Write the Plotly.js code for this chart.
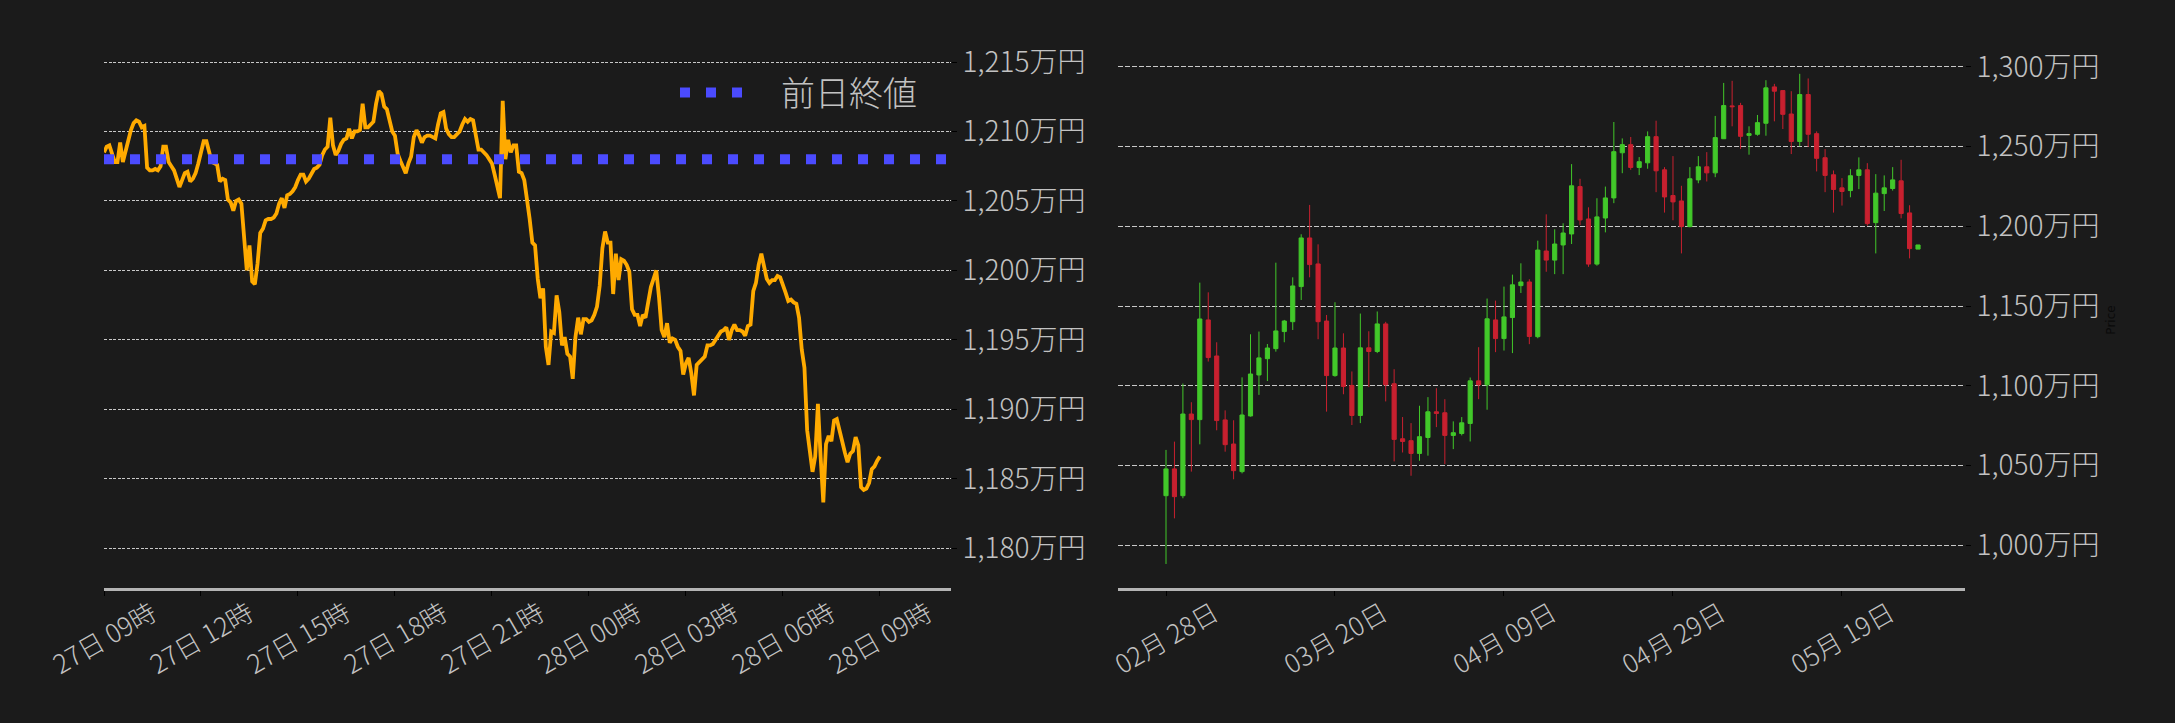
<!DOCTYPE html>
<html><head><meta charset="utf-8">
<script src="https://cdn.plot.ly/plotly-3.0.1.min.js"></script>
<style>html,body{margin:0;padding:0;background:#1b1b1b;}#chart{width:2175px;height:723px;}</style>
</head><body><div id="chart"></div>
<script>
// ---------- intraday (5-minute) data ----------
const intradayStart = '2025-05-27T09:00:00';
const intradayStepMinutes = 5;
const intradayPrices = [
 1208.5,1208.9,1209.0,1208.4,1207.8,1207.8,1209.2,1207.8,1208.6,1209.4,
 1210.1,1210.6,1210.8,1210.7,1210.3,1210.4,1207.4,1207.2,1207.2,1207.3,
 1207.2,1207.5,1208.9,1208.9,1207.8,1207.5,1207.2,1206.6,1206.0,1206.5,
 1207.0,1207.1,1206.4,1206.6,1207.0,1207.7,1208.4,1209.3,1209.3,1208.5,
 1207.8,1207.7,1207.6,1206.4,1206.6,1206.5,1205.1,1204.9,1204.3,1205.0,
 1205.1,1204.8,1202.5,1200.0,1201.8,1199.2,1199.0,1200.5,1202.7,1203.0,
 1203.6,1203.7,1203.7,1203.8,1204.1,1204.8,1205.2,1204.5,1205.4,1205.5,
 1205.7,1206.0,1206.5,1206.9,1206.9,1206.4,1206.6,1207.0,1207.3,1207.4,
 1207.6,1208.3,1208.7,1208.9,1211.0,1209.0,1208.3,1208.6,1209.1,1209.4,
 1209.5,1210.2,1209.5,1210.0,1210.0,1210.1,1212.0,1210.3,1210.3,1210.5,
 1210.7,1212.0,1212.9,1212.7,1211.8,1211.6,1210.9,1210.0,1209.7,1208.4,
 1207.9,1207.5,1207.0,1207.7,1208.2,1209.6,1210.1,1209.7,1209.2,1209.6,
 1209.7,1209.7,1209.6,1209.5,1210.5,1211.3,1211.4,1210.2,1209.8,1209.6,
 1209.6,1209.8,1210.0,1210.5,1210.9,1210.7,1210.9,1210.8,1209.6,1208.7,
 1208.7,1208.5,1208.3,1208.0,1207.7,1206.9,1205.9,1205.2,1212.2,1208.0,
 1209.4,1208.5,1209.0,1209.0,1207.1,1207.0,1206.5,1205.2,1203.7,1202.0,
 1201.8,1199.4,1198.0,1198.7,1194.5,1193.2,1195.6,1195.5,1198.2,1197.0,
 1194.6,1195.2,1194.0,1193.8,1192.2,1195.2,1196.6,1195.4,1196.5,1196.5,
 1196.3,1196.4,1196.8,1197.4,1198.9,1201.6,1202.8,1202.0,1202.0,1198.3,
 1201.2,1199.3,1200.8,1200.7,1200.4,1199.9,1197.2,1196.8,1196.8,1196.0,
 1196.8,1196.6,1197.6,1198.8,1199.4,1200.0,1198.1,1195.7,1195.2,1196.2,
 1194.8,1195.1,1195.0,1194.5,1194.2,1192.5,1193.3,1193.7,1192.6,1191.0,
 1193.2,1193.4,1193.6,1193.8,1194.6,1194.6,1194.7,1195.0,1195.2,1195.6,
 1195.7,1195.9,1195.0,1195.7,1196.1,1195.7,1195.7,1195.6,1195.3,1196.0,
 1196.1,1198.5,1199.1,1200.4,1201.2,1200.2,1199.4,1199.1,1199.3,1199.3,
 1199.6,1199.5,1199.0,1198.4,1197.8,1197.9,1197.7,1197.6,1196.6,1194.3,
 1193.0,1188.5,1187.0,1185.5,1186.6,1190.4,1186.6,1183.3,1187.5,1188.1,
 1187.7,1189.2,1189.3,1188.6,1187.7,1186.9,1186.2,1186.8,1187.0,1188.0,
 1187.4,1184.4,1184.2,1184.3,1184.7,1185.7,1185.9,1186.3,1186.6
];
const prevClose = 1208.0;
const prevCloseLabel = '前日終値';
const intradayRange = ['2025-05-27 09:00', '2025-05-28 11:12'];
const intradayTickVals = ['2025-05-27 09:00','2025-05-27 12:00','2025-05-27 15:00','2025-05-27 18:00',
  '2025-05-27 21:00','2025-05-28 00:00','2025-05-28 03:00','2025-05-28 06:00','2025-05-28 09:00'];
const intradayTickText = ['27日 09時','27日 12時','27日 15時','27日 18時','27日 21時',
  '28日 00時','28日 03時','28日 06時','28日 09時'];
const intradayYTickVals = [1180,1185,1190,1195,1200,1205,1210,1215];
const intradayYTickText = ['1,180万円','1,185万円','1,190万円','1,195万円','1,200万円','1,205万円','1,210万円','1,215万円'];

// ---------- daily OHLC data ----------
const dailyStart = '2025-02-28';
const dailyOpen = [
 1031.1,1047.9,1031.1,1082.3,1078.8,1141.3,1118.7,1078.6,1063.5,1046.2,
 1081.1,1106.8,1117.0,1123.3,1134.0,1140.2,1162.2,1192.7,1176.4,1140.6,
 1106.4,1123.7,1100.2,1081.4,1123.8,1121.5,1138.8,1101.3,1066.8,1065.6,
 1057.6,1067.6,1083.7,1083.1,1068.9,1070.1,1076.4,1103.1,1100.6,1141.3,
 1129.6,1142.8,1162.8,1165.1,1130.8,1184.5,1178.8,1188.3,1195.2,1224.9,
 1204.6,1176.3,1205.2,1217.8,1246.1,1251.2,1236.9,1239.8,1256.2,1235.4,
 1219.3,1215.9,1199.8,1229.1,1237.3,1233.5,1254.9,1275.5,1275.7,1257.0,
 1257.7,1264.6,1287.4,1285.1,1270.4,1253.2,1282.6,1258.1,1243.0,1232.3,
 1224.1,1222.4,1231.9,1235.4,1202.3,1220.5,1223.7,1228.5,1208.4,1185.7
];
const dailyHigh = [
 1059.8,1065.0,1101.4,1089.7,1164.7,1158.6,1127.3,1084.6,1078.4,1105.3,
 1132.3,1134.0,1126.2,1177.2,1141.3,1168.0,1195.0,1213.4,1188.7,1144.4,
 1152.4,1132.9,1109.0,1145.3,1134.2,1146.6,1140.1,1110.4,1080.4,1076.6,
 1087.5,1092.9,1098.5,1091.6,1077.7,1080.4,1105.2,1124.2,1154.7,1153.4,
 1162.2,1169.7,1176.8,1166.8,1191.0,1207.5,1198.1,1201.9,1239.0,1229.8,
 1211.9,1217.6,1224.9,1265.4,1255.1,1256.0,1243.4,1259.5,1266.2,1237.1,
 1244.0,1225.4,1237.1,1244.0,1246.5,1269.2,1289.9,1291.2,1277.4,1262.7,
 1269.8,1291.6,1289.3,1285.1,1284.7,1295.6,1292.7,1259.5,1248.4,1235.0,
 1230.2,1235.8,1243.2,1239.6,1232.7,1231.9,1237.1,1241.7,1213.2,1188.3
];
const dailyLow = [
 988.3,1016.9,1029.5,1046.2,1063.3,1115.2,1072.1,1058.7,1041.4,1045.1,
 1080.7,1094.3,1103.0,1121.4,1127.3,1135.0,1153.8,1168.0,1129.2,1083.8,
 1105.7,1094.7,1075.4,1076.6,1099.2,1120.5,1090.2,1052.6,1058.2,1043.6,
 1053.0,1056.2,1074.1,1050.9,1060.3,1068.9,1065.1,1091.6,1085.0,1121.1,
 1122.1,1120.5,1158.2,1126.1,1129.8,1171.5,1170.0,1170.0,1188.9,1200.8,
 1174.6,1175.3,1196.2,1214.5,1233.3,1235.4,1232.1,1236.1,1221.4,1208.6,
 1203.8,1183.0,1199.4,1227.0,1228.1,1230.8,1254.7,1262.7,1248.4,1244.9,
 1256.8,1256.8,1265.8,1261.0,1245.3,1250.1,1249.7,1234.4,1221.4,1208.6,
 1213.0,1218.2,1223.3,1200.4,1183.0,1209.6,1222.4,1205.0,1179.9,1185.7
];
const dailyClose = [
 1047.9,1030.5,1082.3,1078.8,1141.9,1117.7,1078.2,1063.1,1046.8,1081.7,
 1107.4,1117.5,1123.7,1134.4,1140.6,1162.6,1192.7,1176.0,1140.2,1106.4,
 1123.7,1099.6,1081.4,1123.8,1121.5,1138.8,1100.6,1066.4,1065.1,1057.6,
 1068.1,1083.7,1082.7,1068.9,1070.6,1076.8,1103.1,1100.6,1142.0,1129.6,
 1143.2,1163.3,1165.1,1130.9,1185.1,1178.8,1188.9,1195.8,1225.4,1204.0,
 1176.3,1205.9,1217.8,1246.8,1251.2,1236.9,1240.5,1256.2,1234.8,1218.4,
 1215.3,1199.8,1229.8,1237.3,1233.5,1255.6,1275.7,1275.0,1256.4,1258.1,
 1265.0,1286.8,1284.7,1270.2,1253.2,1282.6,1257.7,1242.6,1231.9,1223.1,
 1221.8,1231.7,1235.4,1201.7,1220.8,1224.1,1229.1,1208.0,1186.0,1188.3
];
const dailyRange = ['2025-02-22 07:40', '2025-06-02 13:26'];
const dailyTickVals = ['2025-02-28','2025-03-20','2025-04-09','2025-04-29','2025-05-19'];
const dailyTickText = ['02月 28日','03月 20日','04月 09日','04月 29日','05月 19日'];
const dailyYTickVals = [1000,1050,1100,1150,1200,1250,1300];
const dailyYTickText = ['1,000万円','1,050万円','1,100万円','1,150万円','1,200万円','1,250万円','1,300万円'];

// ---------- helpers ----------
function fmt(d){ return d.toISOString().slice(0,19).replace('T',' '); }
const intradayTimes = intradayPrices.map((_, i) => {
  const d = new Date(intradayStart + 'Z'); d.setUTCMinutes(d.getUTCMinutes() + i*intradayStepMinutes); return fmt(d);
});
const dailyDates = dailyOpen.map((_, i) => {
  const d = new Date(dailyStart + 'T00:00:00Z'); d.setUTCDate(d.getUTCDate() + i); return fmt(d).slice(0,10);
});

const FONT = '"Noto Sans CJK JP", "Noto Sans", sans-serif';
const TXT = '#c2c2c2';
const BG = '#1b1b1b';
const GREEN = '#42c82a';
const RED = '#c8202f';

const traces = [
  { type:'scatter', mode:'lines', x:intradayTimes, y:intradayPrices, xaxis:'x', yaxis:'y',
    line:{color:'#ffaa00', width:3.8}, showlegend:false },
  { type:'scatter', mode:'lines', x:intradayRange, y:[prevClose, prevClose], xaxis:'x', yaxis:'y',
    name:'\u3000' + prevCloseLabel, line:{color:'#4b4bff', width:10, dash:'10px,16px'}, showlegend:true },
  { type:'candlestick', x:dailyDates, open:dailyOpen, high:dailyHigh, low:dailyLow, close:dailyClose,
    xaxis:'x2', yaxis:'y2', showlegend:false,
    increasing:{line:{color:GREEN, width:1}, fillcolor:GREEN},
    decreasing:{line:{color:RED, width:1}, fillcolor:RED} }
];

const yDom = [135/723, 671/723];
const commonX = {
  type:'date', showgrid:false, zeroline:false, showline:true, linecolor:'#b4b4b4', linewidth:2.5,
  ticks:'outside', ticklen:5, tickcolor:'#000000', tickwidth:1, tickangle:-30,
  tickfont:{family:FONT, size:26, color:TXT, weight:300}, ticklabelshift:48, ticklabelstandoff:-7,
  fixedrange:true
};
const commonY = {
  side:'right', showgrid:true, gridcolor:'rgba(230,230,230,0.85)', gridwidth:1, zeroline:false, showline:false,
  ticks:'outside', ticklen:5, tickcolor:'#000000', tickwidth:1,
  tickfont:{family:FONT, size:28, color:TXT, weight:300}, domain:yDom, fixedrange:true
};

const layout = {
  width:2175, height:723, paper_bgcolor:BG, plot_bgcolor:BG,
  margin:{l:0, r:0, t:0, b:0, pad:0}, hovermode:false,
  font:{family:FONT, color:TXT},
  xaxis: Object.assign({}, commonX, {domain:[104/2175, 951/2175], range:intradayRange,
    tickmode:'array', tickvals:intradayTickVals, ticktext:intradayTickText, anchor:'y'}),
  yaxis: Object.assign({}, commonY, {range:[1177.14, 1215.72], tickmode:'array',
    tickvals:intradayYTickVals, ticktext:intradayYTickText, griddash:'3px,1.6px', anchor:'x'}),
  xaxis2: Object.assign({}, commonX, {domain:[1118/2175, 1965/2175], range:dailyRange,
    tickmode:'array', tickvals:dailyTickVals, ticktext:dailyTickText, anchor:'y2',
    rangeslider:{visible:false}}),
  yaxis2: Object.assign({}, commonY, {range:[973.23, 1309.28], tickmode:'array',
    tickvals:dailyYTickVals, ticktext:dailyYTickText, griddash:'5px,2px', anchor:'x2',
    title:{text:'Price', font:{family:'DejaVu Sans, sans-serif', size:12, color:'#0a0a0a'}, standoff:8}}),
  showlegend:true,
  legend:{x:675/2175, xanchor:'left', y:1-93/723, yanchor:'middle', bgcolor:'rgba(0,0,0,0)',
    borderwidth:0, itemwidth:62, font:{family:FONT, size:34, color:TXT, weight:300}}
};

Plotly.newPlot('chart', traces, layout, {staticPlot:true, displayModeBar:false});
</script>
</body></html>
